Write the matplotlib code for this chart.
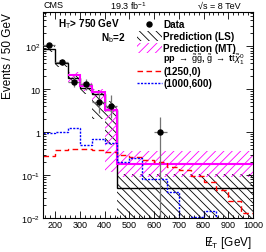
import matplotlib
matplotlib.use("Agg")
import matplotlib.pyplot as plt
from matplotlib.patches import Rectangle
from matplotlib.lines import Line2D
from matplotlib.ticker import MultipleLocator, LogLocator, NullFormatter

plt.rcParams["font.family"] = ["Liberation Sans", "DejaVu Sans"]
plt.rcParams["mathtext.fontset"] = "custom"
plt.rcParams["mathtext.rm"] = "Liberation Sans"
plt.rcParams["mathtext.it"] = "Liberation Sans:italic"
plt.rcParams["hatch.linewidth"] = 0.6

# observed data
data_x = [175, 225, 275, 325, 375, 425, 625]
data_y = [105, 44, 15, 13, 5, 4, 1]
data_lo = [10, 6.6, 3.8, 3.6, 2.2, 1.9, 0.999]
data_hi = [11, 7.7, 4.9, 4.7, 3.4, 3.2, 1.3]

# prediction (LS)
ls_edges = [150, 200, 250, 300, 350, 400, 450, 1000]
ls_vals = [86, 40, 18, 10.5, 7.8, 3.3, 0.052]
ls_up = [100, 47, 22, 13, 9.5, 5.5, 0.105]
ls_dn = [72, 33, 14, 8, 2.0, 0.5, 0.001]

# prediction (MT)
mt_edges = [250, 300, 350, 400, 450, 1000]
mt_vals = [22, 12, 8.5, 3.3, 0.18]
mt_up = [26, 15, 10, 4.0, 0.37]
mt_dn = [15, 9, 5.0, 0.12, 0.091]

# signal models, 50 GeV bins
sig_edges = list(range(150, 1001, 50))
sig_1250_0 = [0.28, 0.38, 0.40, 0.40, 0.38, 0.34, 0.29, 0.26, 0.23, 0.20,
              0.16, 0.13, 0.095, 0.07, 0.045, 0.025, 0.013]
sig_1000_600 = [0.95, 1.0, 1.25, 0.5, 0.7, 0.55, 0.2, 0.25, 0.083, 0.083,
                0.041, 0.007, 0.011, 0.015, 0.005, 0.005, 0.005]

LS_HATCH = "\\\\\\\\"
MT_HATCH = "////"

W, H = 266, 253
fig = plt.figure(figsize=(W / 100, H / 100), dpi=100)
ax = fig.add_axes([43 / W, 1 - 219.3 / H, 210 / W, 206.3 / H])

# error bands
for edges, up, dn, col, hatch in [(ls_edges, ls_up, ls_dn, "black", LS_HATCH),
                                   (mt_edges, mt_up, mt_dn, "magenta", MT_HATCH)]:
    for i in range(len(up)):
        ax.bar(edges[i], up[i] - dn[i], bottom=dn[i], width=edges[i + 1] - edges[i],
               align="edge", facecolor="none", edgecolor=col, hatch=hatch, lw=0)

ax.stairs(ls_vals, ls_edges, baseline=None, color="black", lw=1.0)
ax.stairs(mt_vals, mt_edges, baseline=None, color="magenta", lw=1.5)
ax.stairs(sig_1250_0, sig_edges, baseline=None, color="red", lw=1.0, ls=(0, (4, 2.5)))
ax.stairs(sig_1000_600, sig_edges, baseline=None, color="blue", lw=1.0, ls=(0, (1.5, 1)))

ax.errorbar(data_x, data_y, yerr=[data_lo, data_hi], xerr=25, fmt="o",
            color="black", ms=3.6, ecolor="0.45", elinewidth=0.9, capsize=0, zorder=5)

ax.set_yscale("log")
ax.set_xlim(150, 1000)
ax.set_ylim(0.01, 630)
ax.set_xticks(range(200, 1001, 100))
ax.set_xticklabels([str(v) for v in range(200, 1001, 100)])
ax.xaxis.set_minor_locator(MultipleLocator(20))
ax.set_yticks([0.01, 0.1, 1, 10, 100])
ax.set_yticklabels(["$10^{-2}$", "$10^{-1}$", "1", "10", "$10^{2}$"])
ax.yaxis.set_minor_locator(LogLocator(base=10, subs=range(2, 10)))
ax.yaxis.set_minor_formatter(NullFormatter())
ax.tick_params(which="both", direction="in", top=True, right=True, labelsize=6.5, width=0.6)
ax.tick_params(which="major", length=5)
ax.tick_params(which="minor", length=2.5)
ax.tick_params(axis="x", pad=1.5)
ax.tick_params(axis="y", pad=2)
for s in ax.spines.values():
    s.set_linewidth(0.8)

# headers
fig.text(43 / W, 1 - 6 / H, "CMS", fontsize=6.5, va="center", ha="left")
fig.text(128 / W, 1 - 6 / H, "19.3 fb$^{-1}$", fontsize=6.5, va="center", ha="center")
fig.text(241 / W, 1 - 6 / H, "\u221As = 8 TeV", fontsize=6.5, va="center", ha="right")

fig.text(8 / W, 1 - 13 / H, "Events / 50 GeV", fontsize=8.5, rotation=90,
         ha="center", va="top")
fig.text(252 / W, 1 - 243 / H, "$/\\!\\!\\!\\!\\mathrm{E}_{\\mathrm{T}}$ [GeV]",
         fontsize=8.5, ha="right", va="center")


def axx(px):
    return (px - 43) / 210


def axy(py):
    return (219.3 - py) / 206.3


ax.text(axx(58), axy(24), "H$_{\\rm T}$> 750 GeV", transform=ax.transAxes,
        fontsize=7.2, fontweight="bold", va="center", ha="left")
ax.text(axx(126), axy(38), "N$_{\\rm b}$=2", transform=ax.transAxes,
        fontsize=7.2, fontweight="bold", va="center", ha="right")

# legend, placed by hand
tx = axx(163)
ax.add_line(Line2D([axx(148.5)], [axy(25)], marker="o", color="black", ms=3.6,
                   transform=ax.transAxes))
ax.add_patch(Rectangle((axx(137), axy(42)), axx(162) - axx(137), axy(32) - axy(42),
                       transform=ax.transAxes, facecolor="none", edgecolor="black",
                       hatch=LS_HATCH, lw=0))
ax.add_patch(Rectangle((axx(137), axy(54)), axx(162) - axx(137), axy(44) - axy(54),
                       transform=ax.transAxes, facecolor="none", edgecolor="magenta",
                       hatch=MT_HATCH, lw=0))
ax.add_line(Line2D([axx(137), axx(162)], [axy(72), axy(72)], color="red", lw=1.0,
                   ls=(0, (4, 2.5)), transform=ax.transAxes))
ax.add_line(Line2D([axx(137), axx(162)], [axy(84), axy(84)], color="blue", lw=1.0,
                   ls=(0, (1.5, 1)), transform=ax.transAxes))

labels = [(25, "Data", 7.2), (37, "Prediction (LS)", 7.2), (49, "Prediction (MT)", 7.2),
          (60, "pp $\\rightarrow$ $\\tilde{\\rm g}\\tilde{\\rm g}$, $\\tilde{\\rm g}$ $\\rightarrow$ t$\\bar{\\rm t}\\tilde{\\chi}^{0}_{1}$", 6.6),
          (72.5, "(1250,0)", 7.2), (84.5, "(1000,600)", 7.2)]
for py, lab, fs in labels:
    ax.text(tx, axy(py), lab, transform=ax.transAxes, fontsize=fs,
            fontweight="bold", va="center", ha="left")

fig.savefig("out.png", dpi=100)
